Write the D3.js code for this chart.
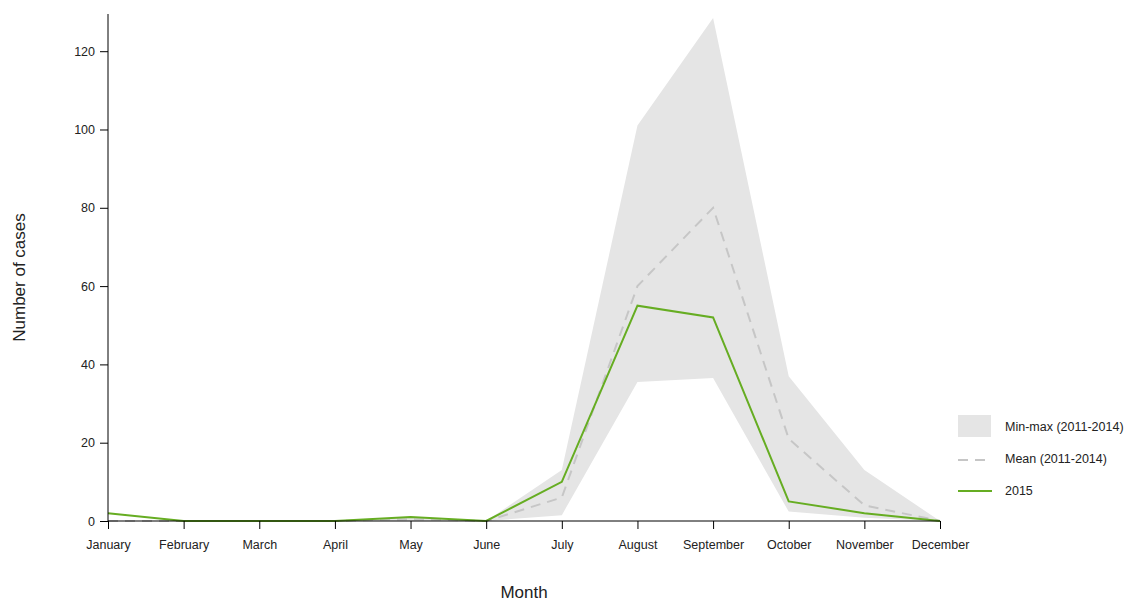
<!DOCTYPE html>
<html>
<head>
<meta charset="utf-8">
<script src="https://cdn.jsdelivr.net/npm/d3@7"></script>
<style>
  body { margin: 0; background: #fff; }
  svg text { font-family: "Liberation Sans", Arial, sans-serif; fill: #222; }
</style>
</head>
<body>
<div id="chart"></div>
<script>
// chart data
const months = ["January", "February", "March", "April", "May", "June", "July",
                "August", "September", "October", "November", "December"];
const cases2015 = [2, 0, 0, 0, 1, 0, 10, 55, 52, 5, 2, 0];
const meanCases = [0, 0, 0, 0, 0.5, 0, 6, 60, 80, 21, 4, 0];
const minCases  = [0, 0, 0, 0, 0, 0, 1.5, 35.5, 36.5, 2.4, 0.8, 0];
const maxCases  = [0, 0, 0, 0, 1, 0, 13, 101, 128.5, 37, 13, 0];
const yTicks = [0, 20, 40, 60, 80, 100, 120];
const legendLabels = ["Min-max (2011-2014)", "Mean (2011-2014)", "2015"];

const width = 1140, height = 601;
const margin = {left: 108, right: 200, top: 14, bottom: 80};

const svg = d3.select("#chart").append("svg")
    .attr("width", width)
    .attr("height", height);

const x = d3.scalePoint()
    .domain(months)
    .range([margin.left, width - margin.right]);

const y = d3.scaleLinear()
    .domain([0, 129.5])
    .range([height - margin.bottom, margin.top]);

// min-max band
const band = d3.area()
    .x((d, i) => x(months[i]))
    .y0((d, i) => y(minCases[i]))
    .y1((d, i) => y(maxCases[i]));

svg.append("path")
    .datum(months)
    .attr("d", band)
    .attr("fill", "#e5e5e5");

const line = d3.line()
    .x((d, i) => x(months[i]))
    .y(d => y(d));

svg.append("path")
    .datum(meanCases)
    .attr("d", line)
    .attr("fill", "none")
    .attr("stroke", "#c6c6c6")
    .attr("stroke-width", 2)
    .attr("stroke-dasharray", "10,7");

svg.append("path")
    .datum(cases2015)
    .attr("d", line)
    .attr("fill", "none")
    .attr("stroke", "#66ad22")
    .attr("stroke-width", 2);

// axes
const xAxis = svg.append("g")
    .attr("transform", `translate(0,${y(0)})`)
    .call(d3.axisBottom(x).tickSize(8).tickPadding(11));
xAxis.select(".domain").attr("d", `M${x(months[0])},0H${x(months[11])}`).attr("stroke", "#000");
xAxis.selectAll("text").attr("font-size", 12.5);

const yAxis = svg.append("g")
    .attr("transform", `translate(${margin.left},0)`)
    .call(d3.axisLeft(y).tickValues(yTicks).tickSize(8).tickPadding(5));
yAxis.select(".domain").attr("d", `M0,${y(0)}V${margin.top}`).attr("stroke", "#000");
yAxis.selectAll("text").attr("font-size", 12.5);

svg.append("text")
    .attr("x", (x(months[0]) + x(months[11])) / 2)
    .attr("y", 598)
    .attr("text-anchor", "middle")
    .attr("font-size", 17)
    .text("Month");

svg.append("text")
    .attr("transform", `translate(25,${(y(0) + margin.top) / 2 + 10}) rotate(-90)`)
    .attr("text-anchor", "middle")
    .attr("font-size", 17)
    .text("Number of cases");

// legend
const lg = svg.append("g").attr("transform", "translate(958,0)");
lg.append("rect")
    .attr("x", 0).attr("y", 415)
    .attr("width", 33).attr("height", 22)
    .attr("fill", "#e5e5e5");
lg.append("line")
    .attr("x1", 0).attr("x2", 34).attr("y1", 460).attr("y2", 460)
    .attr("stroke", "#c6c6c6").attr("stroke-width", 2)
    .attr("stroke-dasharray", "10,7");
lg.append("line")
    .attr("x1", 0).attr("x2", 34).attr("y1", 491).attr("y2", 491)
    .attr("stroke", "#66ad22").attr("stroke-width", 2);
lg.selectAll("text.lab")
    .data(legendLabels)
    .enter().append("text")
    .attr("class", "lab")
    .attr("x", 47)
    .attr("y", (d, i) => 431 + i * 32)
    .attr("font-size", 12.5)
    .text(d => d);
</script>
</body>
</html>
